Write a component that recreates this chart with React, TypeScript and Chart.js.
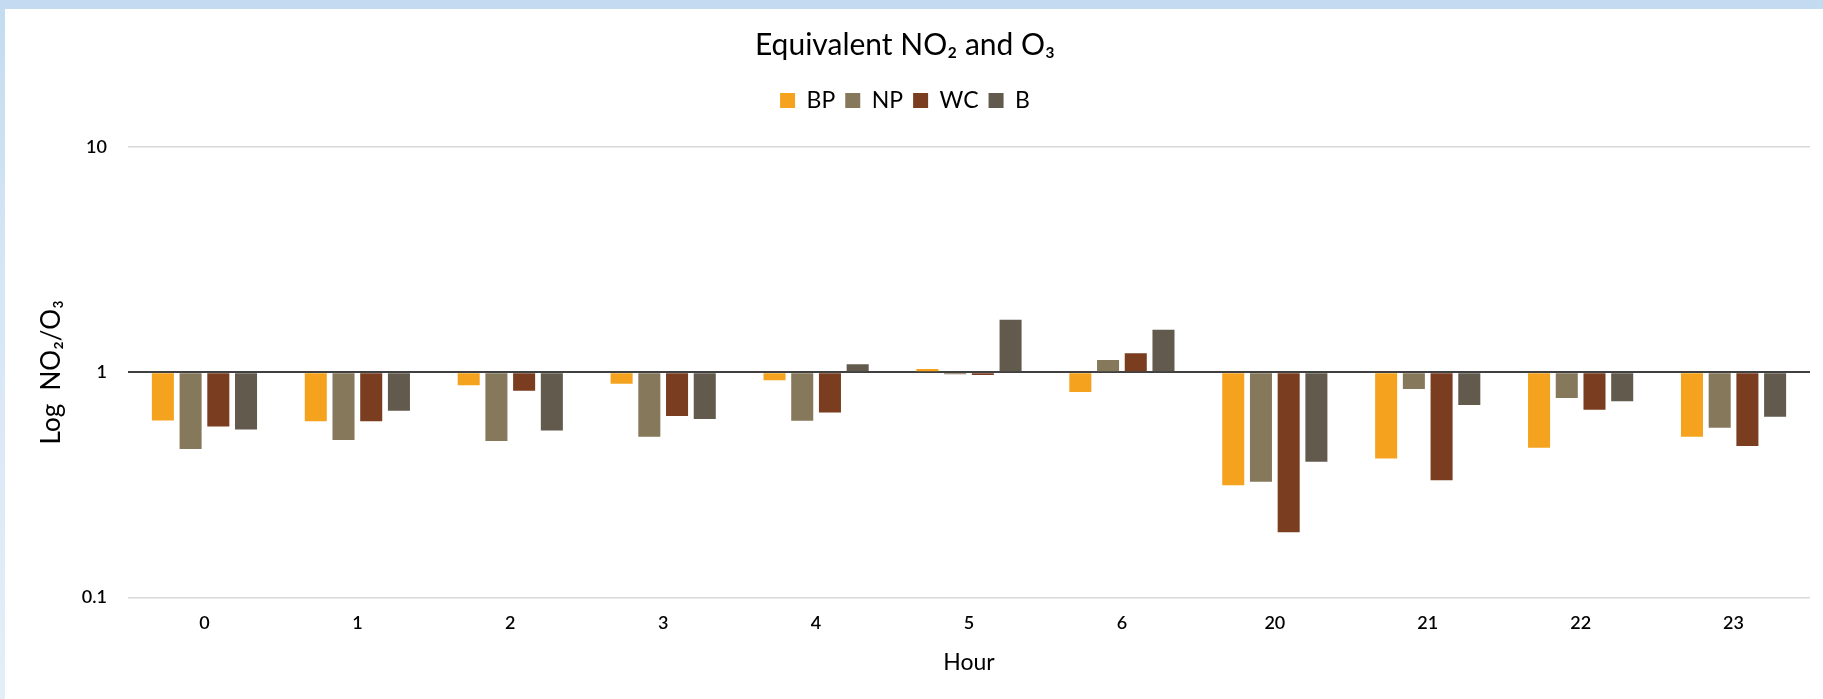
import React, { useEffect, useRef } from "react";
import { Chart, registerables } from "chart.js";

Chart.register(...registerables);

const hours = ["0", "1", "2", "3", "4", "5", "6", "20", "21", "22", "23"];
const seriesNames = ["BP", "NP", "WC", "B"];
const bpValues = [0.611, 0.607, 0.875, 0.89, 0.921, 1.035, 0.817, 0.315, 0.414, 0.463, 0.517];
const npValues = [0.457, 0.501, 0.496, 0.517, 0.609, 0.98, 1.135, 0.327, 0.843, 0.769, 0.567];
const wcValues = [0.575, 0.607, 0.829, 0.639, 0.663, 0.973, 1.215, 0.195, 0.332, 0.682, 0.471];
const bValues = [0.557, 0.675, 0.551, 0.62, 1.085, 1.711, 1.544, 0.401, 0.715, 0.743, 0.635];
const yTickValues = [0.1, 1, 10];
const seriesColors = ["#F5A31F", "#86785B", "#7A3D1F", "#625A4D"];

const FONT = "Lato, 'Open Sans', sans-serif";

export default function App() {
  const canvasRef = useRef<HTMLCanvasElement | null>(null);

  useEffect(() => {
    const canvas = canvasRef.current;
    if (!canvas) return;
    const allValues = [bpValues, npValues, wcValues, bValues];

    const legendSpacer = {
      id: "legendSpacer",
      beforeInit(chart: any) {
        const legend = chart.legend;
        if (!legend) return;
        const origFit = legend.fit;
        legend.fit = function () {
          origFit.call(this);
          this.height += 25;
        };
      },
    };

    const chart = new Chart(canvas, {
      type: "bar",
      data: {
        labels: hours,
        datasets: seriesNames.map((name, i) => ({
          label: name,
          data: allValues[i],
          base: 1,
          backgroundColor: seriesColors[i],
          borderWidth: 0,
          categoryPercentage: 0.725,
          barPercentage: 0.795,
        })),
      },
      options: {
        responsive: false,
        animation: false,
        layout: { padding: { left: 0, right: 13, top: 0, bottom: 0 } },
        plugins: {
          title: {
            display: true,
            text: "Equivalent NO₂ and O₃",
            color: "#000",
            font: { family: FONT, size: 30, weight: "normal" },
            padding: { top: 27, bottom: 16 },
          },
          legend: {
            display: true,
            position: "top",
            labels: {
              color: "#000",
              font: { family: FONT, size: 23 },
              boxWidth: 15,
              boxHeight: 15,
              padding: 10,
            },
          },
          tooltip: { enabled: false },
        },
        scales: {
          x: {
            grid: { display: false, drawTicks: false },
            border: { display: false },
            ticks: {
              color: "#000",
              font: { family: FONT, size: 18, weight: "600" },
              padding: 15,
            },
            title: {
              display: true,
              text: "Hour",
              color: "#000",
              font: { family: FONT, size: 23 },
              padding: { top: 4, bottom: 23 },
            },
            afterFit(scale: any) {
              scale.height = 101.4;
            },
          },
          y: {
            type: "logarithmic",
            min: 0.1,
            max: 10,
            z: 1,
            border: { display: false },
            grid: {
              drawTicks: false,
              color: (ctx: any) => (ctx.tick && ctx.tick.value === 1 ? "#404040" : "#d9d9d9"),
              lineWidth: (ctx: any) => (ctx.tick && ctx.tick.value === 1 ? 2 : 1.5),
            },
            afterBuildTicks(scale: any) {
              scale.ticks = yTickValues.map((v) => ({ value: v }));
            },
            ticks: {
              color: "#000",
              font: { family: FONT, size: 18, weight: "600" },
              padding: 21,
              callback: (v: any) => String(v),
            },
            title: {
              display: true,
              text: "Log  NO₂/O₃",
              color: "#000",
              font: { family: FONT, size: 26 },
              padding: { top: 36, bottom: 4 },
            },
            afterFit(scale: any) {
              scale.width = 128;
            },
          },
        },
      },
      plugins: [legendSpacer],
    });

    return () => {
      chart.destroy();
    };
  }, []);

  return (
    <div
      style={{
        position: "fixed",
        left: 0,
        top: 0,
        width: 1823,
        height: 699,
        background: "linear-gradient(180deg, #c3dbf0 0%, #d6e6f5 40%, #e4eef8 100%)",
        overflow: "hidden",
      }}
    >
      <div
        style={{
          position: "absolute",
          left: 5,
          top: 9,
          right: 0,
          bottom: 0,
          background: "#ffffff",
        }}
      />
      <canvas
        ref={canvasRef}
        width={1823}
        height={699}
        style={{ position: "absolute", left: 0, top: 0, width: 1823, height: 699 }}
      />
    </div>
  );
}
